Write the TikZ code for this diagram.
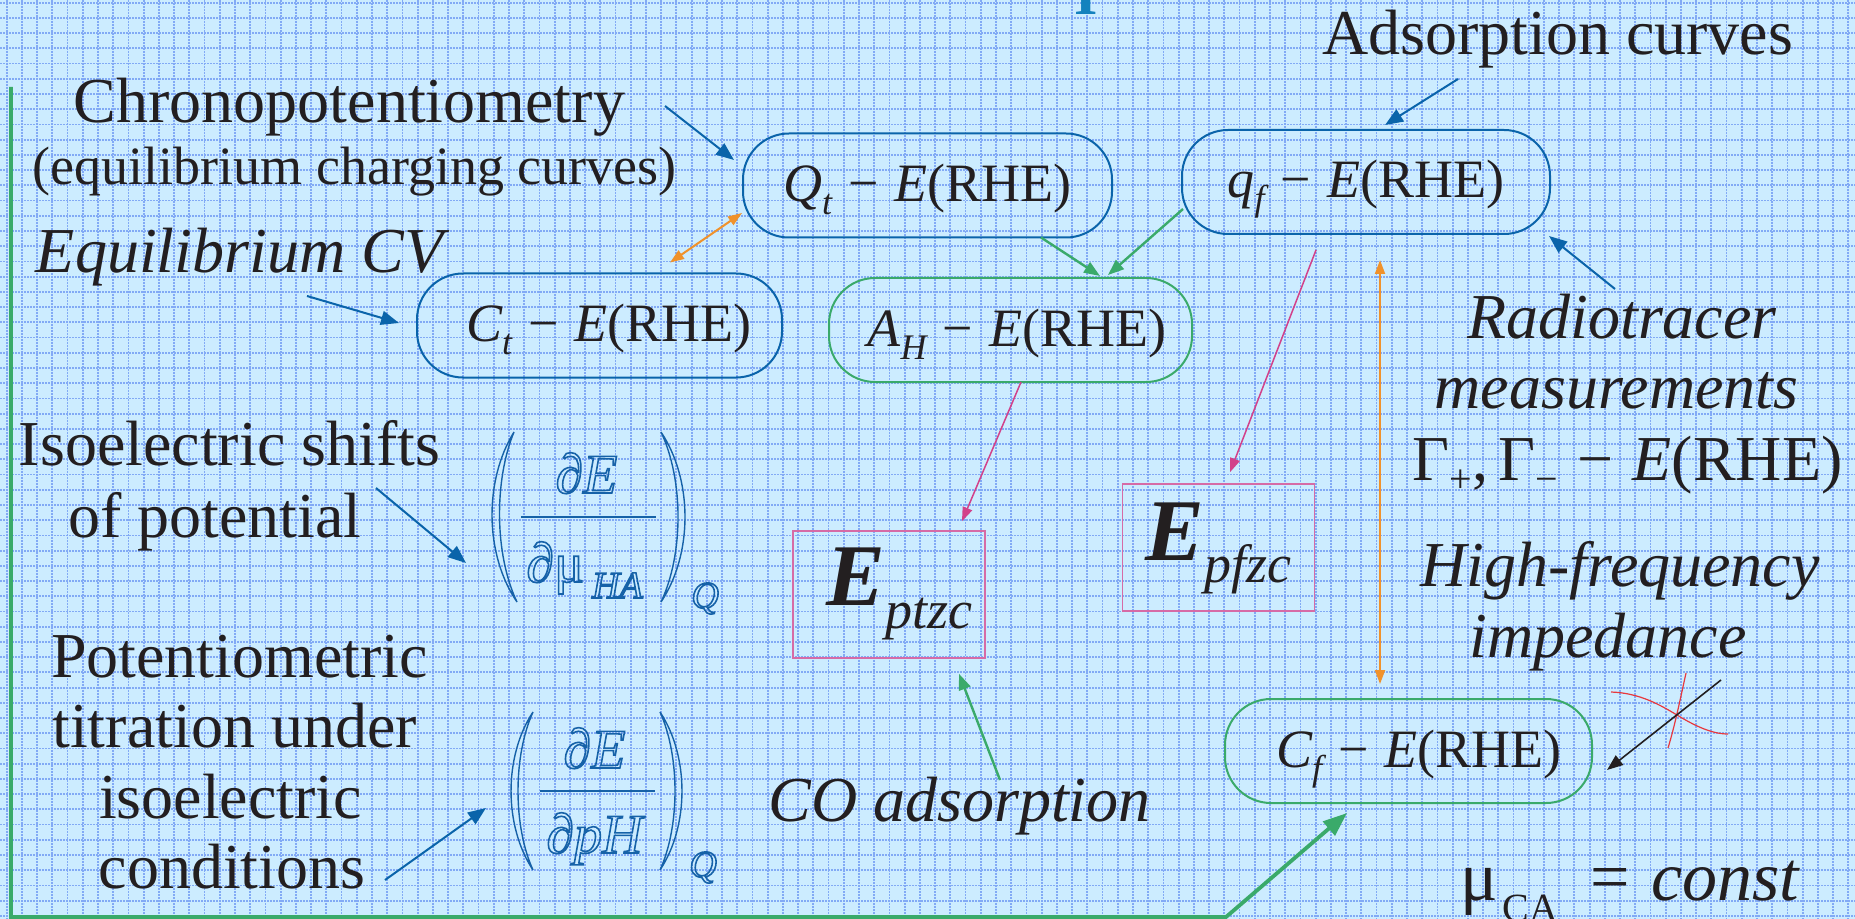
\documentclass[tikz,border=0pt]{standalone}
\usepackage{fontspec}
\setmainfont{Liberation Serif}
\usetikzlibrary{arrows.meta,calc}

\definecolor{bg}{RGB}{204,236,255}
\definecolor{gridc}{RGB}{130,170,245}
\definecolor{bblue}{RGB}{10,100,170}
\definecolor{bgreen}{RGB}{58,170,106}
\definecolor{borange}{RGB}{240,146,43}
\definecolor{bmag}{RGB}{210,65,138}
\definecolor{bpink}{RGB}{214,107,166}
\definecolor{bred}{RGB}{232,56,61}
\definecolor{ink}{RGB}{35,31,32}
\definecolor{tblue}{RGB}{20,130,190}
\definecolor{fblue}{RGB}{22,98,168}

\newcommand\fsz[1]{\fontsize{#1}{#1}\selectfont}
\newcommand\outl[1]{\special{pdf:literal direct 1 Tr 0.8 w}#1\special{pdf:literal direct 0 Tr}}
\newcommand\sbs[1]{\raisebox{-6.5pt}{\fsz{18}\itshape #1}}
\newcommand\mns{\hspace{0.3em}−\hspace{0.3em}}

\begin{document}
\begin{tikzpicture}[x=0.5pt,y=-0.5pt,
  every node/.style={inner sep=0pt,text=ink},
  gridline/.style={draw=gridc,line width=0.9pt,dash pattern=on 0.8pt off 0.7pt},
  lbl/.style={font=\fsz{32},anchor=base},
  ilbl/.style={font=\fsz{32}\itshape,anchor=base},
  rbox/.style={draw,line width=1pt,rounded corners=23pt,minimum height=52pt,font=\fsz{27},text height=16pt,text depth=0pt},
  ebox/.style={draw=bpink,line width=0.8pt,minimum width=96pt,minimum height=63.5pt,font=\fsz{44}},
  fractxt/.style={text=fblue,font=\fsz{28}\itshape,anchor=base},
  parenpath/.style={draw=fblue,line width=0.7pt},
  barrow/.style={draw=bblue,line width=1pt,-{Triangle[length=9pt,width=7pt]}},
  garrow/.style={draw=bgreen,line width=1.2pt,-{Triangle[length=8pt,width=6pt]}},
  oarrow/.style={draw=borange,line width=1pt,{Triangle[length=7pt,width=5pt]}-{Triangle[length=7pt,width=5pt]}},
  marrow/.style={draw=bmag,line width=0.75pt,-{Triangle[length=7pt,width=5pt]}},
  karrow/.style={draw=ink,line width=0.8pt,-{Triangle[length=8pt,width=6pt]}},
  frame/.style={draw=bgreen,line width=1.9pt,-{Triangle[length=12pt,width=9pt]}}
]
\useasboundingbox (0,0) rectangle (1855,919);
\begin{scope}
\clip (0,0) rectangle (1855,919);
\fill[bg] (0,0) rectangle (1855,919);
\foreach \i in {0,...,121} { \draw[gridline] ({6.7+15.22*\i},0) -- ++(0,919); }
\foreach \j in {0,...,60} { \draw[gridline] (0,{2.7+15.22*\j}) -- ++(1855,0); }

% title fragment
\node[anchor=base,text=tblue,font=\fsz{30}\bfseries] (title) at (1086,15) {I};

% boxes
\node[rbox,draw=bblue,minimum width=184.5pt] (Qt) at (927.5,185.5) {{\itshape Q}\sbs{t}\mns{\itshape E}(RHE)};
\node[rbox,draw=bblue,minimum width=182.5pt] (Ct) at (599.5,325.5) {\hspace{9.5pt}{\itshape C}\sbs{t}\mns{\itshape E}(RHE)};
\node[rbox,draw=bgreen,minimum width=181.5pt] (AH) at (1010.5,330) {\hspace{6.5pt}{\itshape A}\sbs{H}\mns{\itshape E}(RHE)};
\node[rbox,draw=bblue,minimum width=184pt] (qf) at (1366,182) {{\itshape q}\sbs{f}\mns{\itshape E}(RHE)\hspace{4pt}};
\node[rbox,draw=bgreen,minimum width=183.5pt] (Cf) at (1408.5,751) {\hspace{10.5pt}{\itshape C}\sbs{f}\mns{\itshape E}(RHE)};
\node[ebox,text height=10.5pt,text depth=0pt] (Ep) at (889,594.5) {\hspace{10.5pt}{\bfseries\itshape E}\raisebox{-11.5pt}{\fsz{27}\itshape ptzc}};
\node[ebox,text height=12.5pt,text depth=0pt] (Ef) at (1218.5,547.5) {{\bfseries\itshape E}\raisebox{-11pt}{\fsz{27}\itshape pfzc}};

% labels
\node[lbl] (chrono) at (349.5,123) {Chronopotentiometry};
\node[lbl,font=\fsz{27}] (equil) at (354.5,185) {(equilibrium charging curves)};
\node[ilbl] (eqcv) at (239.5,273) {Equilibrium CV};
\node[lbl] (iso1) at (229.5,465) {Isoelectric shifts};
\node[lbl] (iso2) at (215,537) {of potential};
\node[lbl] (pot1) at (239.5,677) {Potentiometric};
\node[lbl] (pot2) at (234.5,747) {titration under};
\node[lbl] (pot3) at (230.5,818) {isoelectric};
\node[lbl] (pot4) at (232,888) {conditions};
\node[ilbl] (co) at (959.5,821) {CO adsorption};
\node[lbl] (ads) at (1557.5,55) {Adsorption curves};
\node[ilbl] (rad1) at (1622,338) {Radiotracer};
\node[ilbl] (rad2) at (1616.5,408) {measurements};
\node[lbl] (gam) at (1627.5,480) {Γ\raisebox{-6pt}{\fsz{20}+},\,Γ\raisebox{-6pt}{\fsz{20}−}\hspace{0.3em}−\hspace{0.3em}\textit{E}(RHE)};
\node[ilbl] (hf1) at (1620,586) {High-frequency};
\node[ilbl] (hf2) at (1608,657) {impedance};
\node[lbl,anchor=base west,font=\fsz{35}] (mu) at (1460,900) {μ\hspace{2.5pt}\raisebox{-10.5pt}{\fsz{20}CA}\hspace{16pt}=\hspace{10.5pt}\textit{const}};

% fraction 1
\node[fractxt] (f1n) at (586.5,493) {\outl{∂E}};
\draw[fblue,line width=0.8pt] (521,517) -- (656,517);
\node[fractxt,anchor=base west] (f1d) at (526,582) {\outl{∂\upshape μ\hspace{4pt}\raisebox{-8pt}{\fsz{19}\itshape HA}}};
\node[fractxt,anchor=base west,font=\fsz{19}\itshape] (f1q) at (691,608) {\outl{Q}};
\path[parenpath] (514,432) .. controls (484.2,480) and (484.2,554) .. (517,602) .. controls (494.2,554) and (494.2,480) .. (514,432) -- cycle;
\path[parenpath] (661,432) .. controls (693,480) and (693,554) .. (661,602) .. controls (683.7,554) and (683.7,480) .. (661,432) -- cycle;

% fraction 2
\node[fractxt] (f2n) at (594.5,768) {\outl{∂E}};
\draw[fblue,line width=0.8pt] (540,791) -- (655,791);
\node[fractxt] (f2d) at (594.5,853) {\outl{∂pH}};
\node[fractxt,anchor=base west,font=\fsz{19}\itshape] (f2q) at (689,877) {\outl{Q}};
\path[parenpath] (533,712) .. controls (503.7,756) and (503.7,826) .. (533,870) .. controls (513,826) and (513,756) .. (533,712) -- cycle;
\path[parenpath] (660,712) .. controls (689.3,756) and (689.3,826) .. (660,870) .. controls (680,826) and (680,756) .. (660,712) -- cycle;

% impedance sketch
\draw[bred,line width=0.6pt] (1611,692) .. controls (1640,693) and (1660,705) .. (1677,715) .. controls (1695,726) and (1712,734) .. (1728,734);
\draw[bred,line width=0.6pt] (1686,673) .. controls (1680,700) and (1675,725) .. (1668,748);

% coordinates for free ends
\coordinate (sChrono) at (665,106);
\coordinate (sEqcv) at (307,296);
\coordinate (sAds) at (1458,79);
\coordinate (sRad) at (1615,289);
\coordinate (sCO) at (1000,780);
\coordinate (sIso) at (376,488);
\coordinate (fr1) at (466,563);
\coordinate (sCond) at (385,880);
\coordinate (fr2) at (486,808);
\coordinate (sImp) at (1721,680);
\coordinate (fTop) at (11,87);
\coordinate (fCorner) at (11,917);
\coordinate (fBend) at (1226,917);

% connectors
\draw[barrow] (sChrono) -- ($(Qt.west)+(-8,-25.5)$);
\draw[barrow] (sEqcv) -- ($(Ct.west)+(-17,-2.5)$);
\draw[oarrow] ($(Ct.north)+(70.5,-10)$) -- ($(Qt.west)+(0,27.5)$);
\draw[garrow] ($(Qt.south)+(113.5,-1)$) -- ($(AH.north)+(89.5,-1)$);
\draw[garrow] ($(qf.west)+(2,27)$) -- ($(AH.north)+(97.5,-2)$);
\draw[barrow] (sAds) -- ($(qf.north)+(19,-4)$);
\draw[barrow] (sRad) -- ($(qf.south east)+(-2,1)$);
\draw[oarrow] ($(qf.south)+(14,25)$) -- ($(Cf.north)+(-28.5,-14)$);
\draw[marrow] ($(AH.south)+(10.5,-1)$) -- ($(Ep.north)+(73,-9)$);
\draw[marrow] ($(qf.south)+(-50,15)$) -- ($(Ef.north)+(11.5,-11)$);
\draw[garrow] (sCO) -- ($(Ep.south)+(70,15)$);
\draw[barrow] (sIso) -- (fr1);
\draw[barrow] (sCond) -- (fr2);
\draw[karrow] (sImp) -- ($(Cf.east)+(14,19)$);
\draw[frame] (fTop) -- (fCorner) -- (fBend) -- ($(Cf.south)+(-61.5,9)$);
\end{scope}
\end{tikzpicture}
\end{document}
